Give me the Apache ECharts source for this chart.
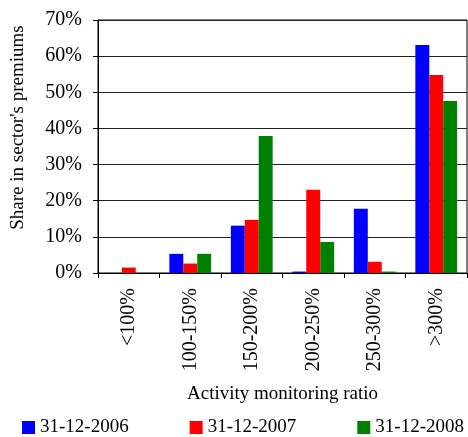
<!DOCTYPE html>
<html>
<head>
<meta charset="utf-8">
<script src="https://cdn.jsdelivr.net/npm/echarts@6/dist/echarts.min.js"></script>
<style>html,body{margin:0;padding:0;background:#fff;}#c{width:468px;height:437px;}</style>
</head>
<body>
<div id="c"></div>
<script>
const categories = ['<100%', '100-150%', '150-200%', '200-250%', '250-300%', '>300%'];
const s2006 = [0, 5.3, 13.1, 0.4, 17.8, 63.1];
const s2007 = [1.5, 2.6, 14.7, 23.0, 3.1, 54.8];
const s2008 = [0, 5.3, 37.9, 8.6, 0.4, 47.6];
const seriesNames = ['31-12-2006', '31-12-2007', '31-12-2008'];
const colors = ['#0000ff', '#ff0000', '#008000'];
const FONT = 'Liberation Serif';

const chart = echarts.init(document.getElementById('c'), null, {renderer: 'canvas'});
chart.setOption({
  animation: false,
  color: colors,
  textStyle: {fontFamily: FONT, color: '#000'},
  grid: {left: 98, right: 1, top: 20, bottom: 164, show: true, borderColor: '#000', borderWidth: 1, containLabel: false},
  legend: {
    left: 22, top: 418, padding: 0, itemWidth: 13, itemHeight: 13, itemGap: 61, icon: 'rect',
    textStyle: {fontFamily: FONT, fontSize: 19, color: '#000'},
    data: seriesNames
  },
  xAxis: {
    type: 'category', data: categories,
    name: 'Activity monitoring ratio', nameLocation: 'middle', nameGap: 112,
    nameTextStyle: {fontFamily: FONT, fontSize: 19, color: '#000'},
    axisLine: {lineStyle: {color: '#000'}},
    axisTick: {show: true, length: 5, lineStyle: {color: '#000'}},
    axisLabel: {rotate: 90, margin: 15, fontFamily: FONT, fontSize: 20, color: '#000'}
  },
  yAxis: {
    type: 'value', min: 0, max: 70, interval: 10,
    name: "Share in sector's premiums", nameLocation: 'middle', nameGap: 70,
    nameTextStyle: {fontFamily: FONT, fontSize: 19, color: '#000', padding: [0,0,0,38]},
    axisLine: {show: true, lineStyle: {color: '#000'}},
    axisTick: {show: true, length: 5, lineStyle: {color: '#000'}},
    axisLabel: {formatter: '{value}%', margin: 16, fontFamily: FONT, fontSize: 20, color: '#000'},
    splitLine: {show: true, lineStyle: {color: '#222', width: 1}}
  },
  series: [
    {name: seriesNames[0], type: 'bar', data: s2006, barGap: '0%', barCategoryGap: '32%'},
    {name: seriesNames[1], type: 'bar', data: s2007, barGap: '0%', barCategoryGap: '32%'},
    {name: seriesNames[2], type: 'bar', data: s2008, barGap: '0%', barCategoryGap: '32%'}
  ]
});
</script>
</body>
</html>
